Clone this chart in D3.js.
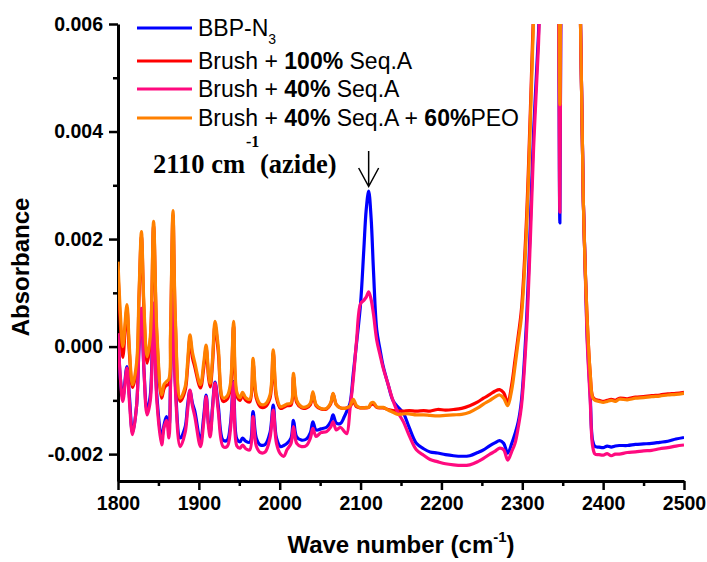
<!DOCTYPE html>
<html>
<head>
<meta charset="utf-8">
<script src="https://cdn.jsdelivr.net/npm/d3@7"></script>
<style>
body { margin: 0; background: #fff; }
text { font-family: Arial, "Liberation Sans", sans-serif; }
.axis path, .axis line { stroke: #000; }
.axis text { font-size: 19.5px; font-weight: bold; fill: #000; }
</style>
</head>
<body>
<div id="chart"></div>
<script>
// wave number grid (cm-1), shared by all four spectra
var waveNumbers = [
  1800, 1803, 1806, 1811, 1814, 1818, 1823, 1826, 1829, 1832,
  1836, 1840, 1844, 1848, 1854, 1857, 1860, 1863, 1865, 1868,
  1871, 1877, 1883, 1886, 1889, 1892, 1895, 1902, 1906, 1909,
  1912, 1914, 1917, 1920, 1924, 1930, 1935, 1939, 1943, 1947,
  1951, 1954, 1958, 1963, 1967, 1971, 1976, 1982, 1988, 1992,
  1996, 2001, 2005, 2009, 2014, 2017, 2021, 2027, 2033, 2038,
  2041, 2045, 2051, 2058, 2063, 2066, 2070, 2075, 2080, 2083,
  2087, 2091, 2095, 2100, 2104, 2107, 2110, 2113, 2116, 2120,
  2124, 2128, 2134, 2140, 2146, 2153, 2160, 2169, 2178, 2186,
  2195, 2205, 2215, 2225, 2235, 2245, 2252, 2260, 2266, 2272,
  2277, 2282, 2287, 2291, 2295, 2299, 2305, 2310, 2314, 2320,
  2330, 2340, 2344, 2346.5, 2349, 2355, 2365, 2371, 2375.5, 2380,
  2384, 2387, 2390, 2395, 2400, 2405, 2410, 2415, 2420, 2430,
  2440, 2450, 2460, 2470, 2480, 2490, 2500
];

// absorbance, in units of 0.001
var bbpN3 = [
  0.2, -0.6, -0.95, -0.37, -0.9, -1.6, -1.1, 0.0, 0.7, -0.4,
  -1.2, -0.9, 0.8, -0.9, -1.7, -1.45, -1.3, -1.5, -0.6, 1.1,
  -0.7, -1.7, -1.5, -1.1, -0.82, -1.05, -1.2, -1.76, -1.3, -0.9,
  -1.45, -1.6, -1.1, -0.66, -1.1, -1.74, -1.74, -1.45, -0.65, -1.72,
  -1.77, -1.7, -1.76, -1.78, -1.21, -1.7, -1.83, -1.82, -1.6, -1.09,
  -1.7, -1.86, -1.84, -1.8, -1.7, -1.37, -1.68, -1.74, -1.72, -1.6,
  -1.4, -1.55, -1.53, -1.5, -1.4, -1.27, -1.42, -1.43, -1.3, -1.2,
  -1.05, -0.5, 0.06, 0.8, 1.8, 2.55, 2.89, 2.4, 1.4, 0.31,
  -0.05, -0.37, -0.7, -1.0, -1.12, -1.24, -1.5, -1.8, -1.9, -1.96,
  -1.98, -2.01, -2.03, -2.04, -2.03, -1.97, -1.92, -1.84, -1.79, -1.75,
  -1.8, -1.98, -1.8, -1.62, -1.4, -1.0, 0.4, 2.3, 4.0, 5.8,
  10, 13, 9, 2.3, 9, 13, 12, 7, 2.7, 0.3,
  -0.9, -1.75, -1.86, -1.87, -1.88, -1.85, -1.87, -1.85, -1.84, -1.84,
  -1.82, -1.81, -1.8, -1.78, -1.76, -1.72, -1.69
];
var brush100 = [
  1.4, 0.4, -0.2, 0.7, -0.1, -0.76, -0.4, 0.9, 2.05, 0.7,
  -0.31, 0.1, 2.25, 0.2, -0.96, -0.78, -0.72, -0.7, 0.2, 2.45,
  0.4, -1.02, -0.82, -0.4, 0.15, -0.2, -0.38, -0.77, -0.4, -0.03,
  -0.58, -0.75, -0.3, 0.4, -0.1, -1.02, -0.98, -0.78, 0.4, -0.92,
  -1.0, -0.9, -1.0, -1.03, -0.3, -0.96, -1.12, -1.12, -0.96, -0.12,
  -0.96, -1.15, -1.13, -1.1, -1.09, -0.56, -1.04, -1.14, -1.14, -1.08,
  -0.88, -1.1, -1.16, -1.16, -1.07, -0.88, -1.08, -1.14, -1.15, -1.14,
  -1.12, -1.02, -1.12, -1.14, -1.14, -1.14, -1.13, -1.08, -1.07, -1.13,
  -1.14, -1.14, -1.17, -1.19, -1.2, -1.2, -1.19, -1.2, -1.19, -1.2,
  -1.17, -1.18, -1.17, -1.15, -1.1, -1.03, -0.96, -0.89, -0.83, -0.8,
  -0.86, -1.04, -0.7, -0.25, 0.2, 0.7, 2.3, 4.4, 6.3, 8.7,
  11, 13, 10, 4.4, 10, 13, 12, 7, 2.7, 0.6,
  -0.5, -0.93, -0.98, -1.0, -1.02, -1.0, -0.98, -1.0, -0.96, -0.97,
  -0.94, -0.93, -0.91, -0.9, -0.88, -0.87, -0.85
];
var brush40 = [
  0.25, -0.6, -1.02, -0.4, -1.0, -1.64, -1.1, 0.0, 0.71, -0.4,
  -1.27, -1.0, 0.81, -1.0, -1.83, -1.5, -1.37, -1.7, -0.7, 1.0,
  -0.8, -1.86, -1.6, -1.2, -0.81, -1.1, -1.3, -1.86, -1.4, -0.93,
  -1.5, -1.68, -1.15, -0.68, -1.2, -1.86, -1.86, -1.55, -0.67, -1.85,
  -1.89, -1.83, -1.9, -1.92, -1.3, -1.85, -1.97, -1.96, -1.7, -1.18,
  -1.8, -2.0, -2.04, -1.92, -1.8, -1.49, -1.8, -1.86, -1.84, -1.7,
  -1.52, -1.67, -1.6, -1.58, -1.5, -1.4, -1.55, -1.5, -1.58, -1.62,
  -1.15, -0.6, 0.1, 0.8, 0.86, 0.92, 1.02, 0.88, 0.6, 0.12,
  -0.15, -0.4, -0.7, -1.0, -1.22, -1.4, -1.65, -1.92, -2.02, -2.1,
  -2.14, -2.18, -2.2, -2.21, -2.2, -2.14, -2.08, -2.0, -1.95, -1.89,
  -1.92, -2.11, -1.95, -1.8, -1.5, -1.1, 0.2, 2.0, 3.7, 5.6,
  10, 13, 9, 2.5, 9, 13, 12, 7, 2.7, 0.2,
  -1.0, -1.85, -2.0, -2.01, -2.02, -1.99, -2.03, -2.0, -2.0, -1.97,
  -1.96, -1.94, -1.93, -1.9, -1.88, -1.85, -1.83
];
var brush40Peo = [
  1.58, 0.6, 0.0, 0.78, 0.0, -0.71, -0.3, 1.0, 2.14, 0.8,
  -0.19, 0.2, 2.33, 0.3, -0.9, -0.7, -0.65, -0.6, 0.3, 2.53,
  0.5, -0.96, -0.75, -0.3, 0.22, -0.1, -0.3, -0.71, -0.3, 0.03,
  -0.5, -0.68, -0.2, 0.47, 0.0, -0.96, -0.92, -0.7, 0.47, -0.85,
  -0.95, -0.85, -0.95, -0.98, -0.22, -0.9, -1.07, -1.07, -0.9, -0.06,
  -0.9, -1.12, -1.1, -1.07, -1.05, -0.5, -1.0, -1.12, -1.12, -1.05,
  -0.84, -1.08, -1.15, -1.15, -1.05, -0.87, -1.08, -1.14, -1.15, -1.14,
  -1.1, -0.98, -1.1, -1.14, -1.14, -1.13, -1.13, -1.05, -1.04, -1.12,
  -1.13, -1.13, -1.18, -1.22, -1.26, -1.25, -1.25, -1.27, -1.27, -1.28,
  -1.29, -1.28, -1.27, -1.26, -1.22, -1.14, -1.07, -1.0, -0.94, -0.9,
  -0.96, -1.1, -0.8, -0.37, 0.1, 0.56, 2.1, 4.2, 6.1, 8.5,
  11, 13, 10, 4.5, 10, 13, 12, 7, 2.7, 0.6,
  -0.5, -0.95, -1.0, -1.02, -1.04, -1.02, -1.0, -1.02, -0.98, -0.99,
  -0.96, -0.95, -0.93, -0.92, -0.9, -0.89, -0.87
];

var seriesColors = ["#0000ff", "#ff0000", "#ff0a7f", "#ff8000"];
var xTicks = [1800, 1900, 2000, 2100, 2200, 2300, 2400, 2500];
var xMinorTicks = [1850, 1950, 2050, 2150, 2250, 2350, 2450];
var yTicks = [-0.002, 0.000, 0.002, 0.004, 0.006];
var yMinorTicks = [-0.001, 0.001, 0.003, 0.005];

var svgWidth = 707;
var svgHeight = 562;
var margin = {top: 24, right: 23, bottom: 81, left: 118};
var width = svgWidth - margin.left - margin.right;
var height = svgHeight - margin.top - margin.bottom;

var svg = d3.select("#chart")
  .append("svg")
  .attr("width", svgWidth)
  .attr("height", svgHeight);

var chart = svg.append("g")
  .attr("transform", `translate(${margin.left}, ${margin.top})`);

var xScale = d3.scaleLinear().domain([1800, 2500]).range([0, width]);
var yScale = d3.scaleLinear().domain([-0.0025, 0.006]).range([height, 0]);

// axes: major + minor ticks, no frame on top/right
var fmtY = d => d3.format(".3f")(d).replace("\u2212", "-");

chart.append("g").attr("class", "axis")
  .attr("transform", `translate(0, ${height})`)
  .call(d3.axisBottom(xScale).tickValues(xTicks).tickSize(9).tickSizeOuter(0)
    .tickPadding(6).tickFormat(d3.format("d")));
chart.append("g").attr("class", "axis minor")
  .attr("transform", `translate(0, ${height})`)
  .call(d3.axisBottom(xScale).tickValues(xMinorTicks).tickSize(5).tickSizeOuter(0).tickFormat(""));

chart.append("g").attr("class", "axis")
  .call(d3.axisLeft(yScale).tickValues(yTicks).tickSize(9).tickSizeOuter(0)
    .tickPadding(6).tickFormat(fmtY));
chart.append("g").attr("class", "axis minor")
  .call(d3.axisLeft(yScale).tickValues(yMinorTicks).tickSize(5).tickSizeOuter(0).tickFormat(""));

chart.selectAll(".axis .domain").attr("stroke-width", 3);
chart.selectAll(".axis .tick line").attr("stroke-width", 2.5);
chart.selectAll(".minor .domain").remove();

// spectra, clipped to the plot area
chart.append("clipPath").attr("id", "plot-clip")
  .append("rect").attr("x", 0).attr("y", 0).attr("width", width).attr("height", height);

var allSeries = [bbpN3, brush100, brush40, brush40Peo];
var line = d3.line()
  .x(d => xScale(d[0]))
  .y(d => yScale(d[1] * 0.001))
  .curve(d3.curveCatmullRom.alpha(0.5));

chart.append("g").attr("clip-path", "url(#plot-clip)")
  .selectAll("path")
  .data(allSeries)
  .enter()
  .append("path")
  .attr("d", s => line(s.map((v, i) => [waveNumbers[i], v])))
  .attr("fill", "none")
  .attr("stroke", (s, i) => seriesColors[i])
  .attr("stroke-width", 3.2)
  .attr("stroke-linejoin", "round");

// axis titles
svg.append("text")
  .attr("transform", "translate(29, 267) rotate(-90)")
  .attr("text-anchor", "middle")
  .attr("font-size", "24px")
  .attr("font-weight", "bold")
  .text("Absorbance");

var xTitle = svg.append("text")
  .attr("x", 401)
  .attr("y", 553)
  .attr("text-anchor", "middle")
  .attr("font-size", "24px")
  .attr("font-weight", "bold");
xTitle.append("tspan").text("Wave number (cm");
xTitle.append("tspan").attr("dy", -11).attr("font-size", "15px").text("-1");
xTitle.append("tspan").attr("dy", 11).text(")");

// legend
var legendRows = [
  [["BBP-N", "normal"]],
  [["Brush + ", "normal"], ["100%", "bold"], [" Seq.A", "normal"]],
  [["Brush + ", "normal"], ["40%", "bold"], [" Seq.A", "normal"]],
  [["Brush + ", "normal"], ["40%", "bold"], [" Seq.A + ", "normal"], ["60%", "bold"], ["PEO", "normal"]]
];
var legendY = [28, 61, 89, 118];

var legend = svg.append("g").selectAll("g")
  .data(legendRows)
  .enter()
  .append("g")
  .attr("transform", (d, i) => `translate(0, ${legendY[i]})`);

legend.append("line")
  .attr("x1", 137).attr("x2", 192)
  .attr("y1", 0).attr("y2", 0)
  .attr("stroke", (d, i) => seriesColors[i])
  .attr("stroke-width", 3);

var legendText = legend.append("text")
  .attr("x", 198)
  .attr("y", 8)
  .attr("font-size", "23px")
  .style("white-space", "pre");
legendText.selectAll("tspan")
  .data(d => d)
  .enter()
  .append("tspan")
  .attr("font-weight", d => d[1])
  .text(d => d[0]);
legendText.filter((d, i) => i === 0)
  .append("tspan")
  .attr("dy", 8)
  .attr("font-size", "14px")
  .text("3");

// azide annotation
var serif = "'Times New Roman', 'Liberation Serif', serif";
var note = svg.append("g");
note.append("text").attr("x", 153).attr("y", 173).attr("font-size", "26.5px").text("2110 cm");
note.append("text").attr("x", 246).attr("y", 147).attr("font-size", "16px").text("-1");
note.append("text").attr("x", 260).attr("y", 173).attr("font-size", "26.5px").text("(azide)");
note.selectAll("text").style("font-family", serif).style("font-weight", "bold");

var ax = margin.left + xScale(2110);
svg.append("path")
  .attr("d", `M${ax},151 L${ax},186 M${ax - 10},168 L${ax},186.5 L${ax + 10},168`)
  .attr("fill", "none")
  .attr("stroke", "#000")
  .attr("stroke-width", 1.5);
</script>
</body>
</html>
